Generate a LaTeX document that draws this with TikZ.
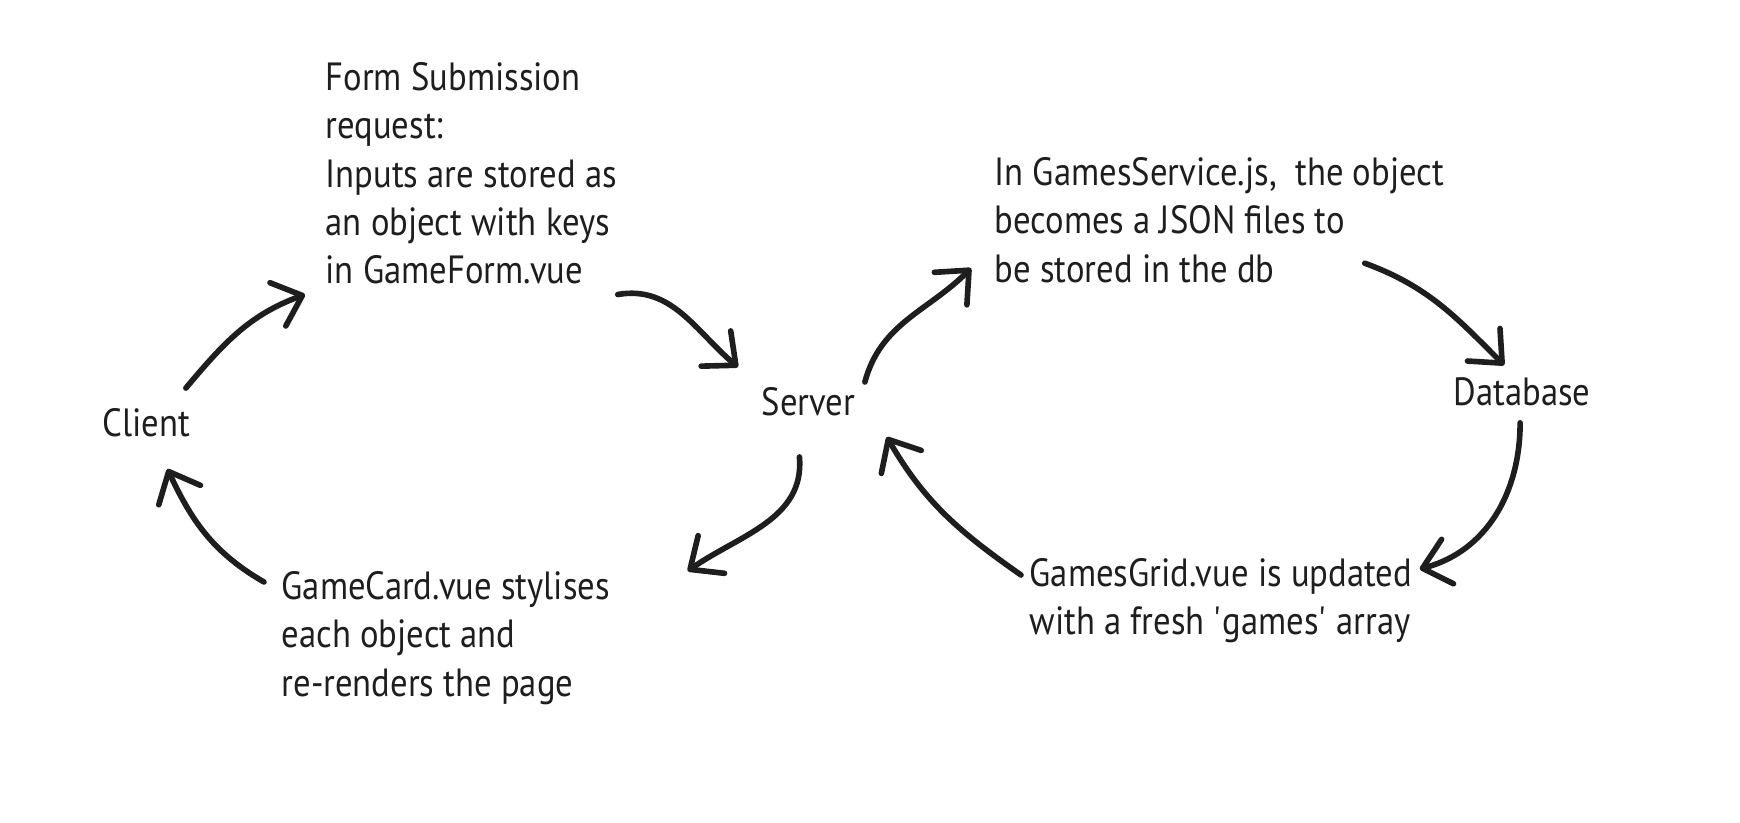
\documentclass[tikz,border=0pt]{standalone}
\usepackage{fontspec}
\setmainfont{PT Sans}[FakeStretch=0.88]
\usetikzlibrary{arrows.meta,calc}
\definecolor{ink}{HTML}{1E1E1E}
\tikzset{%
    Note/.style={%
        anchor=north west,
        align=left,
        inner sep=0pt,
        text=ink,
        font=\fontsize{11.2}{13.7}\selectfont
    },
    Label/.style={%
        anchor=west,
        inner sep=0pt,
        text=ink,
        font=\fontsize{11.2}{13.7}\selectfont
    },
    Hand/.style={%
        -{Straight Barb[length=2.6mm,width=4.6mm,round]},
        ink,
        line width=1.6pt,
        line cap=round
    }
}

\begin{document}
\begin{tikzpicture}
\useasboundingbox[fill=white] (0,0) rectangle (17.4,-8.22);

% les textes
\node[Label] (client)   at (1.02,-4.23)  {Client};
\node[Label] (server)   at (7.61,-4.02)  {Server};
\node[Label] (database) at (14.53,-3.92) {Database};

\node[Note] (form) at (3.25,-0.62) {Form Submission\\request:\\Inputs are stored as\\an object with keys\\in GameForm.vue};
\node[Note] (service) at (9.94,-1.57) {In GamesService.js,~ the object\\becomes a JSON files to\\be stored in the db};
\node[Note] (grid) at (10.29,-5.58) {GamesGrid.vue is updated\\with a fresh \textquotesingle games\textquotesingle\ array};
\node[Note] (card) at (2.81,-5.71) {GameCard.vue stylises\\each object and\\re-renders the page};

% les fleches
\draw[Hand] ([shift={(-0.05,0.2)}]client.north east)
    to[out=50,in=200] ([shift={(-0.2,-0.1)}]form.south west);
\draw[Hand] ([shift={(0,-0.1)}]form.south east)
    to[out=10,in=140] ([shift={(-0.23,0.2)}]server.north west);
\draw[Hand] ([shift={(0.09,0.05)}]server.north east)
    to[out=75,in=225] ([shift={(-0.23,0.15)}]service.south west);
\draw[Hand] ([shift={(-0.8,0.2)}]service.south east)
    to[out=-20,in=135] ([shift={(-0.18,0.12)}]database.north);
\draw[Hand] ([shift={(-0.02,-0.16)}]database.south)
    to[out=-90,in=15] ([shift={(0.07,-0.11)}]grid.north east);
\draw[Hand] ([shift={(-0.08,-0.17)}]grid.north west)
    to[out=145,in=-60] ([shift={(0.31,-0.2)}]server.south east);
\draw[Hand] ([shift={(-0.09,-0.4)}]server.south)
    to[out=-85,in=35] ([shift={(0.77,0)}]card.north east);
\draw[Hand] ([shift={(-0.17,-0.11)}]card.north west)
    to[out=150,in=-65] ([shift={(0.21,-0.31)}]client.south);

\end{tikzpicture}
\end{document}
